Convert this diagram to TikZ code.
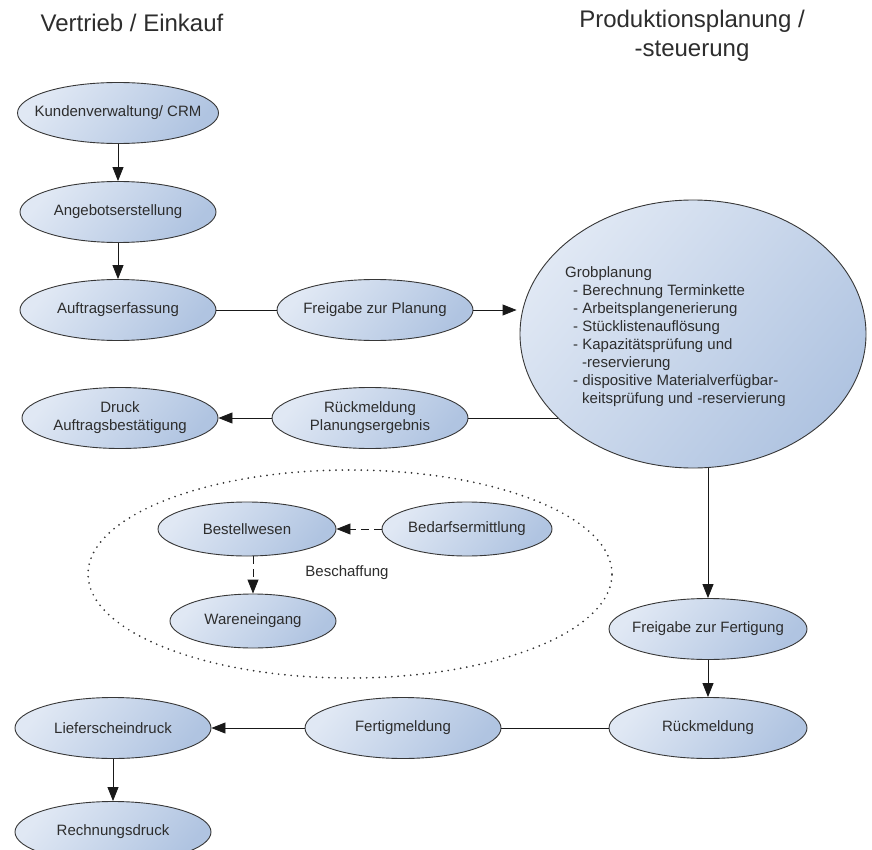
\documentclass[tikz,border=0pt]{standalone}
\usepackage{fontspec}
\setmainfont{Liberation Sans}
\usetikzlibrary{shapes.geometric,arrows.meta}
\definecolor{elllight}{RGB}{224,232,244}
\definecolor{elldark}{RGB}{176,196,225}
\definecolor{ellborder}{RGB}{55,55,55}
\definecolor{txt}{RGB}{45,45,45}
\tikzset{
  proc/.style={ellipse, draw=ellborder, line width=0.9pt, inner sep=0pt,
    top color=elllight, bottom color=elldark, shading angle=50},
  lbl/.style={font=\fontsize{15}{18}\selectfont, align=center, text=txt, inner sep=0pt},
  big/.style={proc, minimum width=196pt, minimum height=61pt},
  small/.style={proc, minimum width=178pt, minimum height=54pt},
  conn/.style={line width=0.9pt, draw=black!90},
  arr/.style={conn, -{Triangle[length=14pt,width=11pt]}},
  darr/.style={arr, dash pattern=on 8pt off 5pt},
  title/.style={font=\fontsize{24}{29}\selectfont, align=center, text=txt},
  dotted boundary/.style={draw=black!80, ellipse, line width=1.9pt, dash pattern=on 0pt off 6.3pt, line cap=round, inner sep=0pt},
}
\begin{document}
\begin{tikzpicture}[x=1pt,y=-1pt]
\useasboundingbox[fill=white] (0,0) rectangle (872,850);
% titles
\node[title] (t1) at (132,23) {Vertrieb / Einkauf};
\node[title] (t2) at (692,36) {Produktionsplanung /\\-steuerung};
% left column
\node[big, minimum width=201pt] (kunden) at (118,113) {};
\node[lbl] (kunden-l) at (kunden) {Kundenverwaltung/ CRM};
\node[big] (angebot) at (118,212) {};
\node[lbl] (angebot-l) at (angebot) {Angebotserstellung};
\node[big] (auftrag) at (118,310) {};
\node[lbl] (auftrag-l) at (auftrag) {Auftragserfassung};
\node[big] (freigabeP) at (375,310) {};
\node[lbl] (freigabeP-l) at (freigabeP) {Freigabe zur Planung};
% Grobplanung
\node[proc, minimum width=346pt, minimum height=268pt] (grob) at (693,334) {};
\node[lbl, align=left, anchor=north west] (grob-l) at (565,266)
 {Grobplanung\\
  \hspace*{8pt}- Berechnung Terminkette\\
  \hspace*{8pt}- Arbeitsplangenerierung\\
  \hspace*{8pt}- St\"ucklistenaufl\"osung\\
  \hspace*{8pt}- Kapazit\"atspr\"ufung und\\
  \hspace*{17pt}-reservierung\\
  \hspace*{8pt}- dispositive Materialverf\"ugbar-\\
  \hspace*{17pt}keitspr\"ufung und -reservierung};
\node[big] (rueckPE) at (370,418) {};
\node[lbl] (rueckPE-l) at (rueckPE) {R\"uckmeldung\\Planungsergebnis};
\node[big] (druck) at (120,418) {};
\node[lbl] (druck-l) at (druck) {Druck\\Auftragsbest\"atigung};
% Beschaffung
\node[dotted boundary, minimum width=524pt, minimum height=208pt] (besch) at (350,574) {};
\node[small] (bestell) at (247,529) {};
\node[lbl] (bestell-l) at (bestell) {Bestellwesen};
\node[small, minimum width=170pt] (bedarf) at (467,529) {};
\node[lbl] (bedarf-l) at (bedarf) {Bedarfsermittlung};
\node[small, minimum width=166pt] (waren) at (253,621) {};
\node[lbl] (waren-l) at (waren) {Wareneingang};
\node[lbl] (besch-l) at (347,573) {Beschaffung};
% lower part
\node[big, minimum width=198pt] (freigabeF) at (708,629) {};
\node[lbl] (freigabeF-l) at (freigabeF) {Freigabe zur Fertigung};
\node[big, minimum width=198pt] (rueck) at (708,728) {};
\node[lbl] (rueck-l) at (rueck) {R\"uckmeldung};
\node[big] (fertig) at (403,728) {};
\node[lbl] (fertig-l) at (fertig) {Fertigmeldung};
\node[big] (liefer) at (113,728) {};
\node[lbl] (liefer-l) at (liefer) {Lieferscheindruck};
\node[big] (rechnung) at (113,832) {};
\node[lbl] (rechnung-l) at (rechnung) {Rechnungsdruck};
% connectors
\draw[arr] (kunden) -- (angebot);
\draw[arr] (angebot) -- (auftrag);
\draw[conn] (auftrag) -- (freigabeP);
\draw[arr, shorten >=3pt] (freigabeP.east) -- (freigabeP.east -| grob.west);
\draw[conn, shorten >=-38pt] (rueckPE.east) -- (rueckPE.east -| grob.west);
\draw[arr] (rueckPE) -- (druck);
\draw[darr] (bedarf) -- (bestell);
\draw[darr] (bestell.south -| waren.north) -- (waren.north);
\draw[arr] (freigabeF.north |- grob.south) -- (freigabeF.north);
\draw[arr] (freigabeF) -- (rueck);
\draw[conn] (rueck) -- (fertig);
\draw[arr] (fertig) -- (liefer);
\draw[arr] (liefer) -- (rechnung);
\end{tikzpicture}
\end{document}
